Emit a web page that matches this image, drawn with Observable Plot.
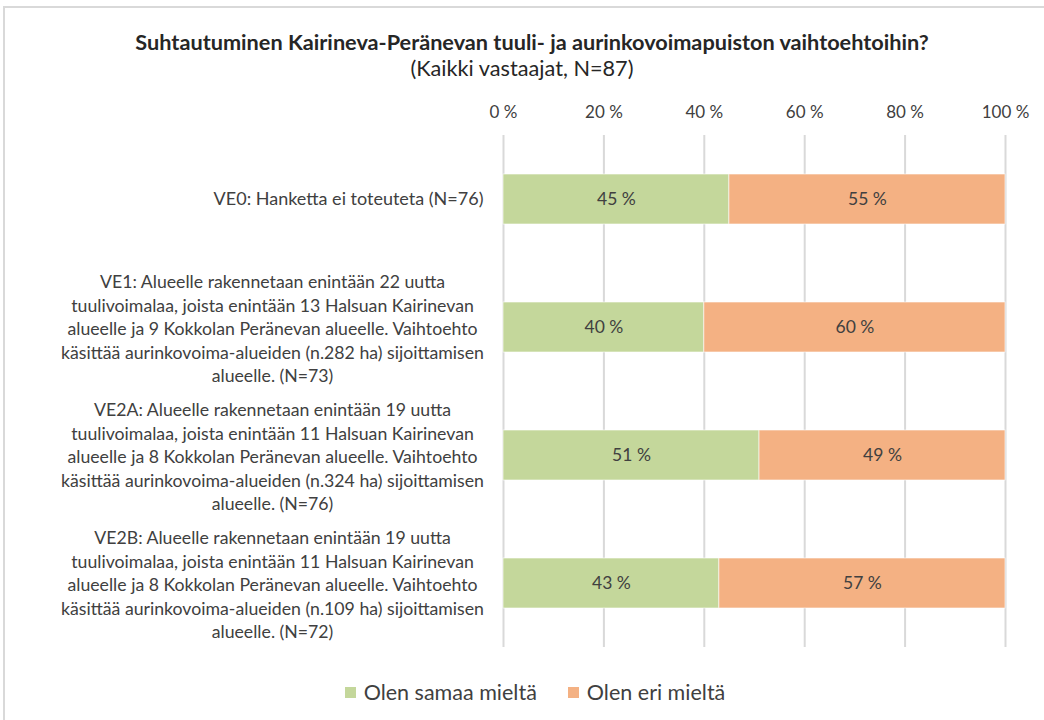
<!DOCTYPE html>
<html>
<head>
<meta charset="utf-8">
<script src="https://cdn.jsdelivr.net/npm/d3@7"></script>
<script src="https://cdn.jsdelivr.net/npm/@observablehq/plot@0.6"></script>
<style>
  html, body { margin: 0; padding: 0; background: #fff; overflow: hidden; }
  body { width: 1044px; height: 720px; position: relative; font-family: Lato, "Open Sans", sans-serif; color: #404040; }
  #frame { position: absolute; left: 3px; top: 6px; width: 1100px; height: 800px; border: 2px solid #d9d9d9; box-sizing: border-box; }
  #title { position: absolute; left: 0; width: 1064px; top: 29px; line-height: 26px; text-align: center; font-weight: bold; font-size: 21.7px; color: #262626; }
  #subtitle { position: absolute; left: 0; width: 1044px; top: 55px; line-height: 26px; text-align: center; font-size: 21.7px; color: #262626; }
  #chart { position: absolute; left: 0; top: 90px; }
  #legend { position: absolute; left: 0; width: 1070px; top: 679px; line-height: 26px; display: flex; justify-content: center; gap: 31px; font-size: 21.5px; color: #404040; }
  .item { display: flex; align-items: center; gap: 8px; }
  .sw { width: 11px; height: 11px; display: inline-block; }
</style>
</head>
<body>
<div id="frame"></div>
<div id="title">Suhtautuminen Kairineva-Peränevan tuuli- ja aurinkovoimapuiston vaihtoehtoihin?</div>
<div id="subtitle">(Kaikki vastaajat, N=87)</div>
<div id="chart"></div>
<div id="legend"></div>
<script>
// Vaihtoehdot (rivit), vastausosuudet prosentteina
const categories = [
  "VE0: Hanketta ei toteuteta (N=76)",
  "VE1: Alueelle rakennetaan enintään 22 uutta\ntuulivoimalaa, joista enintään 13 Halsuan Kairinevan\nalueelle ja 9 Kokkolan Peränevan alueelle. Vaihtoehto\nkäsittää aurinkovoima-alueiden (n.282 ha) sijoittamisen\nalueelle. (N=73)",
  "VE2A: Alueelle rakennetaan enintään 19 uutta\ntuulivoimalaa, joista enintään 11 Halsuan Kairinevan\nalueelle ja 8 Kokkolan Peränevan alueelle. Vaihtoehto\nkäsittää aurinkovoima-alueiden (n.324 ha) sijoittamisen\nalueelle. (N=76)",
  "VE2B: Alueelle rakennetaan enintään 19 uutta\ntuulivoimalaa, joista enintään 11 Halsuan Kairinevan\nalueelle ja 8 Kokkolan Peränevan alueelle. Vaihtoehto\nkäsittää aurinkovoima-alueiden (n.109 ha) sijoittamisen\nalueelle. (N=72)"
];
const agree = [45, 40, 51, 43];
const disagree = [55, 60, 49, 57];
const seriesNames = ["Olen samaa mieltä", "Olen eri mieltä"];
const seriesColors = ["#c4d79b", "#f4b183"];
const xTicks = [0, 20, 40, 60, 80, 100];

const rows = categories.flatMap((cat, i) => [
  {cat, series: seriesNames[0], value: agree[i]},
  {cat, series: seriesNames[1], value: disagree[i]}
]);
const singleLine = categories.filter(c => !c.includes("\n"));
const multiLine = categories.filter(c => c.includes("\n"));

const chart = Plot.plot({
  width: 1044,
  height: 567,
  marginLeft: 503,
  marginRight: 39,
  marginTop: 45,
  marginBottom: 10,
  style: {fontFamily: "Lato, 'Open Sans', sans-serif", color: "#404040", background: "transparent"},
  x: {domain: [0, 100], axis: null},
  y: {domain: categories, axis: null, paddingInner: 0.61, paddingOuter: 0.305},
  color: {domain: seriesNames, range: seriesColors},
  marks: [
    Plot.ruleX(xTicks, {stroke: "#d9d9d9", strokeWidth: 2}),
    Plot.axisX(xTicks, {anchor: "top", tickSize: 0, tickPadding: 18, fontSize: 17, tickFormat: d => `${d} %`, label: null, fill: "#404040"}),
    Plot.barX(rows, Plot.stackX({x: "value", y: "cat", fill: "series", stroke: "#ffffff", strokeWidth: 1, strokeOpacity: 0.6})),
    Plot.text(rows, Plot.stackX({x: "value", y: "cat", text: d => `${d.value} %`, fill: "#404040", fontSize: 17.5})),
    Plot.text(singleLine, {y: d => d, text: d => d, frameAnchor: "left", textAnchor: "end", dx: -20, fontSize: 18, fill: "#404040"}),
    Plot.text(multiLine, {y: d => d, text: d => d, frameAnchor: "left", textAnchor: "middle", dx: -231, fontSize: 17.7, lineHeight: 1.33, fill: "#404040"})
  ]
});
document.getElementById("chart").appendChild(chart);

const legend = document.getElementById("legend");
seriesNames.forEach((name, i) => {
  const item = document.createElement("div");
  item.className = "item";
  const sw = document.createElement("span");
  sw.className = "sw";
  sw.style.background = seriesColors[i];
  item.appendChild(sw);
  item.appendChild(document.createTextNode(name));
  legend.appendChild(item);
});
</script>
</body>
</html>
